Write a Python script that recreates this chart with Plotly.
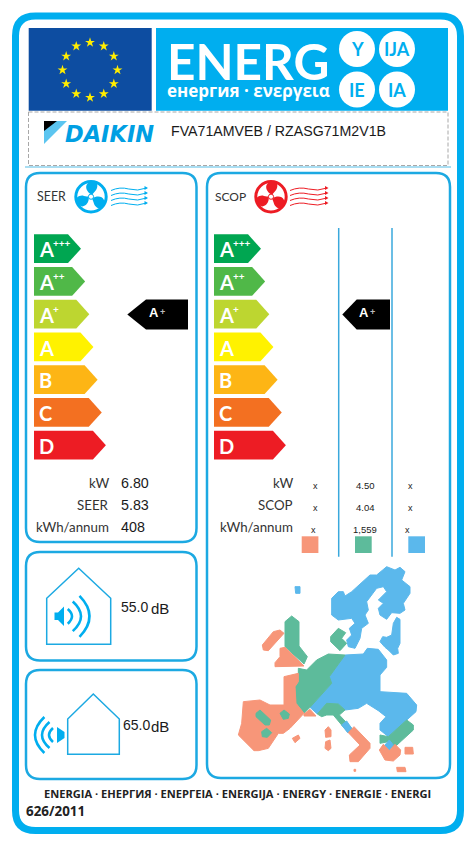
import math
import plotly.graph_objects as go

# ---- chart content ----
classes = ["A", "A", "A", "A", "B", "C", "D"]
class_plus = ["+++", "++", "+", "", "", "", ""]
class_colors = ["#00A651", "#50B848", "#BDD630", "#FFF200", "#FDB515", "#F37021", "#ED1C24"]
seer_class_index = 2
scop_class_index = 2
table_labels_seer = ["kW", "SEER", "kWh/annum"]
table_values_seer = ["6.80", "5.83", "408"]
table_labels_scop = ["kW", "SCOP", "kWh/annum"]
scop_col_cold = ["x", "x", "x"]
scop_col_mid = ["4.50", "4.04", "1,559"]
scop_col_warm = ["x", "x", "x"]
noise_indoor = "55.0"
noise_outdoor = "65.0"
title_big = "ENERG"
title_sub = "енергия · ενεργεια"
suffixes = ["Y", "IJA", "IE", "IA"]
brand = "DAIKIN"
model = "FVA71AMVEB / RZASG71M2V1B"
footer = "ENERGIA · ЕНЕРГИЯ · ΕΝΕΡΓΕΙΑ · ENERGIJA · ENERGY · ENERGIE · ENERGI"
regulation = "626/2011"

BLUE = "#00AEEF"
LINE = "#1CA9E2"
SAL, GRN, SKY = "#F79679", "#5DBB9B", "#5BB8EC"
LATO, ARIAL, NOTO = "Lato", "Liberation Sans", "Noto Sans"

# Europe outline, regions (160 x 160 pixel tile, 3x units)
map_regions = [
 (SKY, [(305,115),(325,95),(340,95),(345,108),(365,95),(420,45),(440,45),(470,20),(495,30),(510,22),(525,35),(515,60),(540,80),(540,100),(520,130),(525,150),(510,160),(485,158),(470,178),(450,165),(445,145),(460,130),(445,120),(470,95),(460,80),(440,85),(410,125),(415,150),(405,165),(415,190),(395,205),(390,235),(375,265),(355,260),(350,240),(365,225),(358,205),(375,190),(365,175),(325,180),(305,165)]),
 (SKY, [(195,80),(210,80),(210,100),(197,100)]),
 (SKY, [(500,172),(510,178),(510,250),(503,265),(505,280),(490,285),(475,270),(465,262),(450,245),(458,230),(470,232),(485,225),(490,190)]),
 (SKY, [(345,285),(400,282),(412,265),(445,268),(470,300),(470,322),(450,345),(450,395),(530,400),(560,435),(558,455),(475,530),(450,510),(450,490),(468,470),(445,452),(410,430),(385,445),(345,450),(325,432),(290,430),(262,462),(240,442),(305,370),(298,350)]),
 (GRN, [(295,282),(345,285),(298,350),(305,370),(240,442),(222,460),(198,430),(195,380),(205,365),(205,325),(230,330),(260,300)]),
 (GRN, [(165,185),(185,168),(207,185),(207,258),(232,290),(222,312),(165,260)]),
 (SAL, [(165,262),(222,318),(135,320),(135,308),(150,290),(150,265)]),
 (SAL, [(97,255),(130,215),(150,210),(162,220),(115,272),(100,270)]),
 (GRN, [(302,230),(325,205),(347,218),(335,235),(350,250),(330,272),(302,245)]),
 (SAL, [(40,425),(90,420),(120,435),(162,435),(162,350),(205,340),(205,365),(195,380),(198,430),(222,460),(180,505),(160,520),(145,520),(115,565),(85,572),(72,572),(25,525),(35,490)]),
 (SAL, [(222,462),(240,448),(258,468),(222,468)]),
 (GRN, [(78,460),(90,450),(122,480),(118,495),(105,495),(78,470)]),
 (GRN, [(95,515),(110,505),(125,518),(112,532),(97,530)]),
 (GRN, [(150,460),(162,450),(178,462),(175,475),(160,478)]),
 (GRN, [(262,462),(290,430),(325,432),(345,450),(328,465),(370,510),(355,518),(335,495),(310,465),(290,465),(275,470)]),
 (SKY, [(335,495),(350,483),(365,505),(353,518)]),
 (SAL, [(355,518),(372,500),(420,550),(420,565),(385,605),(360,605),(358,585),(390,555)]),
 (SAL, [(285,510),(295,500),(303,510),(303,530),(287,532)]),
 (SAL, [(287,545),(300,540),(303,565),(295,572),(285,565)]),
 (SAL, [(187,535),(205,525),(210,535),(195,548)]),
 (GRN, [(450,525),(475,530),(530,480),(550,495),(550,510),(490,565),(475,545),(450,550)]),
 (SKY, [(462,558),(478,540),(490,555),(478,572)]),
 (SAL, [(448,570),(460,553),(478,572),(495,553),(512,570),(510,585),(490,603),(465,600)]),
 (SAL, [(525,562),(548,562),(550,582),(525,582)]),
 (SAL, [(500,622),(525,622),(528,635),(502,635)]),
 (SAL, [(372,628),(377,628),(377,634),(372,634)]),
]

shapes, annots = [], []
fig = go.Figure()


def poly(pts, fill, line=None, lw=0):
    d = "M" + " L".join(f"{x:.2f},{y:.2f}" for x, y in pts) + " Z"
    shapes.append(dict(type="path", path=d, xref="x", yref="y", fillcolor=fill,
                       line=dict(color=line or fill, width=lw), layer="above"))


def path(d, fill="rgba(0,0,0,0)", line="rgba(0,0,0,0)", lw=0):
    shapes.append(dict(type="path", path=d, xref="x", yref="y", fillcolor=fill,
                       line=dict(color=line, width=lw), layer="above"))


def rect(x0, y0, x1, y1, fill, line=None, lw=0, dash=None, layer="above"):
    shapes.append(dict(type="rect", x0=x0, y0=y0, x1=x1, y1=y1, xref="x", yref="y", fillcolor=fill,
                       line=dict(color=line or fill, width=lw, dash=dash or "solid"), layer=layer))


def rrect(x0, y0, x1, y1, r, color, lw):
    d = (f"M{x0+r},{y0} L{x1-r},{y0} Q{x1},{y0} {x1},{y0+r} L{x1},{y1-r} Q{x1},{y1} {x1-r},{y1} "
         f"L{x0+r},{y1} Q{x0},{y1} {x0},{y1-r} L{x0},{y0+r} Q{x0},{y0} {x0+r},{y0} Z")
    path(d, line=color, lw=lw)


def line(x0, y0, x1, y1, color, lw, dash="solid"):
    shapes.append(dict(type="line", x0=x0, y0=y0, x1=x1, y1=y1, xref="x", yref="y",
                       line=dict(color=color, width=lw, dash=dash), layer="above"))


def circle(cx, cy, r, fill, line=None, lw=0):
    shapes.append(dict(type="circle", x0=cx-r, y0=cy-r, x1=cx+r, y1=cy+r, xref="x", yref="y",
                       fillcolor=fill, line=dict(color=line or fill, width=lw), layer="above"))


def txt(x, y, s, size, color="#222222", font=LATO, bold=False, anchor="left", italic=False):
    annots.append(dict(x=x, y=y, xref="x", yref="y", text=s, showarrow=False, xanchor=anchor, yanchor="middle",
                       borderpad=0, borderwidth=0,
                       font=dict(size=size, color=color, family=font, weight="bold" if bold else "normal",
                                 style="italic" if italic else "normal")))


# outer frame
rrect(15.5, 16, 460.5, 830.5, 20, BLUE, 7)

# header
rect(28.7, 28, 151.7, 110.7, "#0D4DA1", layer="below")
rect(156, 28, 448, 110.7, BLUE, layer="below")
n = 12
fig.add_trace(go.Scatter(
    x=[90 + 27.5 * math.sin(2 * math.pi * k / n) for k in range(n)],
    y=[70 + 27.5 * math.cos(2 * math.pi * k / n) for k in range(n)],
    mode="markers", marker=dict(symbol="star", size=7.5, color="#FFED00", line=dict(width=0)),
    hoverinfo="skip", showlegend=False))
txt(167, 60.5, title_big, 49.5, "white", LATO, True)
txt(166.5, 90, title_sub, 17, "white", "Open Sans", True)
for (cx, cy), s in zip([(357, 49), (397, 49), (357, 89.5), (397, 89.5)], suffixes):
    circle(cx, cy, 18, "white")
    txt(cx, cy, s, 18, BLUE, LATO, True, "center")

# brand box
rect(28.5, 112, 448, 165.5, "rgba(0,0,0,0)", "#A8A8A8", 1, "4px,2px")
line(25, 167, 451, 167, "#55BDE6", 1)
poly([(44, 121), (67, 121), (44, 144)], "#5CC5F0")
poly([(44, 121), (57, 121), (44, 131)], "#000000")
txt(64.5, 133.5, brand, 22.5, "#009FE3", "DejaVu Sans", True, italic=True)
txt(170.5, 131, model, 14.2, "#1a1a1a", ARIAL)

# panels
rrect(26, 173, 196.5, 542, 14, LINE, 2.5)
rrect(207, 173, 450, 778, 14, LINE, 2.5)
rrect(26, 552, 196.5, 660.5, 14, LINE, 2.5)
rrect(26, 670, 196.5, 779, 14, LINE, 2.5)


def fan(cx, cy, col):
    circle(cx, cy, 15.2, "rgba(0,0,0,0)", col, 3)
    blade = [(0.05, -0.12), (-0.52, -0.30), (-0.58, -0.90), (0.02, -0.95),
             (0.28, -0.98), (0.36, -0.62), (0.20, -0.40), (0.12, -0.28), (0.08, -0.2), (0.05, -0.12)]
    for a in (10, 130, 250):
        t = math.radians(a)
        P = [(cx + 16 * (u * math.cos(t) - v * math.sin(t)), cy + 16 * (u * math.sin(t) + v * math.cos(t))) for u, v in blade]
        d = f"M{P[0][0]:.2f},{P[0][1]:.2f}"
        for i in range(1, 10, 3):
            d += f" C{P[i][0]:.2f},{P[i][1]:.2f} {P[i+1][0]:.2f},{P[i+1][1]:.2f} {P[i+2][0]:.2f},{P[i+2][1]:.2f}"
        path(d + " Z", fill=col)
    circle(cx, cy, 2.6, "white", col, 1)


def waves(x0, x1, ys, col):
    for y in ys:
        w = (x1 - x0) / 4
        path(f"M{x0},{y+1.5} Q{x0+w},{y-2.5} {x0+2*w},{y} T{x1},{y-1}", line=col, lw=1)
        poly([(x1 + 1.5, y - 1), (x1 - 2, y - 3), (x1 - 2, y + 1)], col)


fan(91, 196.7, BLUE)
waves(111, 146.5, [189, 194, 199, 204], BLUE)
fan(271, 196.7, "#ED1C24")
waves(290, 327, [189, 194, 199, 204], "#ED1C24")
txt(37, 196.5, "SEER", 12.4, "#333333")
txt(214.5, 196.5, "SCOP", 12, "#333333")

# class arrows


def class_scale(left):
    for i, (lab, plus, c) in enumerate(zip(classes, class_plus, class_colors)):
        top = 234.3 + 32.75 * i
        tip = left + 47 + 4.15 * i
        poly([(left, top), (tip - 13, top), (tip, top + 14.4), (tip - 13, top + 28.8), (left, top + 28.8)], c)
        txt(left + 4.5, top + 15, lab, 20, "white", LATO, True)
        if plus:
            txt(left + 19, top + 9, plus, 10, "white", LATO, True)


def pointer(tip, body, right, idx):
    top = 234.3 + 32.75 * idx - 0.3
    poly([(tip, top + 15), (body, top), (right, top), (right, top + 30), (body, top + 30)], "#000000")
    txt(body + 2.5, top + 12.5, classes[idx], 13, "white", ARIAL, True)
    txt(body + 13.5, top + 12.5, class_plus[idx], 9, "#BBBBBB", ARIAL, True)


class_scale(34)
class_scale(214)
pointer(127.3, 146, 188, seer_class_index)
pointer(342.3, 356.7, 390, scop_class_index)

# column dividers, SCOP panel
line(338.7, 228, 338.7, 556.7, "#3AA8DC", 1.5)
line(392, 228, 392, 556.7, "#3AA8DC", 1.5)

# value tables
rows_y = [483, 505, 527]
for y, l, v in zip(rows_y, table_labels_seer, table_values_seer):
    txt(109, y, l, 13.3, "#333333", LATO, anchor="right")
    txt(121, y - 0.5, v, 14.3, "#1a1a1a", ARIAL)
for y, l, a, b, c in zip(rows_y, table_labels_scop, scop_col_cold, scop_col_mid, scop_col_warm):
    txt(292.7, y, l, 13.3, "#333333", LATO, anchor="right")
    dx = -2.5 if y == rows_y[-1] else 0
    txt(315.5 + dx, y + 2.5, a, 9, "#1a1a1a", ARIAL, anchor="center")
    txt(365.3, y + 2.5, b, 9.5, "#1a1a1a", ARIAL, anchor="center")
    txt(410 + dx, y + 2.5, c, 9, "#1a1a1a", ARIAL, anchor="center")
for x0, c in zip([301.7, 355, 408.3], [SAL, GRN, SKY]):
    rect(x0, 536.3, x0 + 16.7, 553, c)

# noise icons


def house(apex_x, apex_y, left, right, eave, bottom):
    poly([(apex_x, apex_y), (right, eave), (right, bottom), (left, bottom), (left, eave)],
         "rgba(0,0,0,0)", LINE, 1.5)


def arc(cx, cy, r, half, direction, lw=2.6):
    a0 = math.radians(half)
    sx = cx + direction * r * math.cos(a0)
    y0, y1 = cy - r * math.sin(a0), cy + r * math.sin(a0)
    path(f"M{sx:.2f},{y0:.2f} Q{cx + direction * (r * 2 - r * math.cos(a0)):.2f},{cy} {sx:.2f},{y1:.2f}", line=BLUE, lw=lw)


house(78.7, 568.3, 46.7, 110.7, 598.3, 644.3)
poly([(54.5, 612.5), (58, 612.5), (64, 606.5), (64, 626), (58, 620), (54.5, 620)], BLUE)
for r, h in [(8.5, 60), (17.5, 58), (26, 52)]:
    arc(63.5, 616.3, r, h, 1)
txt(120.5, 606.5, noise_indoor, 14, "#1a1a1a", ARIAL)
txt(150.5, 608, "dB", 15, "#1a1a1a", ARIAL)

house(93.3, 694, 67.7, 119.3, 719, 754.3)
poly([(64.5, 732), (64.5, 738), (57, 743), (57, 727)], BLUE)
for r, h in [(8, 60), (15, 60), (22, 55)]:
    arc(57, 735, r, h, -1)
txt(122.5, 725, noise_outdoor, 14, "#1a1a1a", ARIAL)
txt(150.5, 726, "dB", 15, "#1a1a1a", ARIAL)

# map
for col, pts in map_regions:
    poly([(230 + px / 3, 560 + py / 3) for px, py in pts], col, col, 1)

# footer
txt(44, 793.5, footer, 11.1, "#222222", "Open Sans", True)
txt(26, 810.5, regulation, 13.4, "#222222", "Open Sans", True)

fig.update_layout(
    width=476, height=846, margin=dict(l=0, r=0, t=0, b=0),
    paper_bgcolor="white", plot_bgcolor="white", showlegend=False,
    xaxis=dict(range=[0, 476], visible=False, fixedrange=True),
    yaxis=dict(range=[846, 0], visible=False, fixedrange=True),
    shapes=shapes, annotations=annots,
)
fig.write_html("out.html", config={"displayModeBar": False},
               post_script="document.body.style.margin='0';document.documentElement.style.overflow='hidden';")
